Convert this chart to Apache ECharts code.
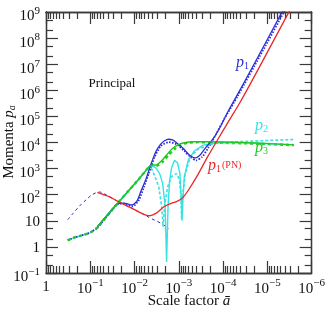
<!DOCTYPE html>
<html><head><meta charset="utf-8">
<script src="https://cdn.jsdelivr.net/npm/echarts@6/dist/echarts.min.js"></script>
<style>html,body{margin:0;padding:0;background:#fff}#c{width:328px;height:310px}</style>
</head><body><div id="c"></div>
<script>
// ---------- tick values & labels ----------
const xMajor = [1, 1e-1, 1e-2, 1e-3, 1e-4, 1e-5, 1e-6];
const xTickLabels = ['1', '10^\u22121', '10^\u22122', '10^\u22123', '10^\u22124', '10^\u22125', '10^\u22126'];
const yMajor = [1e-1, 1, 10, 1e2, 1e3, 1e4, 1e5, 1e6, 1e7, 1e8, 1e9];
const yTickLabels = ['10^\u22121', '1', '10', '10^2', '10^3', '10^4', '10^5', '10^6', '10^7', '10^8', '10^9'];
const xMinorMult = [2, 3, 4, 5, 6, 7, 8, 9];
const yMinorMult = [2, 5];

// ---------- series data [scale factor a, momentum p] ----------
const p1Thin = [[0.323,11.0],[0.250,18.5],[0.174,37.0],[0.1215,66],[0.0893,102],[0.0623,127],[0.0373,84.1],[0.0223,52.3],[0.0103,27.3],[0.00617,17.7],[0.00477,13.6],[0.00333,10.1],[0.00245,7.78],[0.00171,5.05]];
const p1PN = [[0.0691,124],[0.0373,84.1],[0.0223,52.3],[0.0103,27.3],[0.00617,17.7],[0.00477,15.6],[0.00316,20.2],[0.00221,33.9],[0.00154,45.9],[0.00113,54.6],[0.000832,73.8],[0.000611,148],[0.000365,616],[0.000218,3060],[0.000131,13300],[0.0000781,58000],[0.0000422,327000],[0.0000167,5.7e6],[3.23e-6,1.03e9],[2.5e-6,2.24e9]];
const p1 = [[0.0691,6.0],[0.0373,20.2],[0.0247,43.9],[0.01725,47.9],[0.01143,40.3],[0.00884,57.0],[0.00719,135],[0.00557,383],[0.0043,1400],[0.00333,4320],[0.00257,8630],[0.0021,11700],[0.00171,13300],[0.00139,12700],[0.00113,9830],[0.000789,5850],[0.00058,3330],[0.000426,2570],[0.00033,3330],[0.000242,6660],[0.000169,13700],[0.000118,37600],[0.0000781,150000],[0.0000468,713000],[0.0000167,1.76e7],[4.62e-6,1.03e9],[3.58e-6,2.24e9]];
const p1Dash = [[0.323,1.79],[0.225,2.32],[0.157,2.75],[0.099,3.57],[0.0691,5.5],[0.0373,19.3],[0.0247,42.1],[0.01725,45.9],[0.01086,35.4],[0.00797,62.1],[0.00617,191],[0.00477,643],[0.00351,2800],[0.00257,7260],[0.00171,10300],[0.00113,8630],[0.00075,4710],[0.000551,2800],[0.000405,2070],[0.000297,2800],[0.000218,6110],[0.000145,20500],[0.000096,75200],[0.0000468,600000],[0.0000151,1.91e7],[3.96e-6,1.22e9],[3.23e-6,2.44e9]];
const p2 = [[0.0691,6.0],[0.0373,20.2],[0.0223,54.6],[0.01334,148],[0.00797,400],[0.00557,834],[0.0043,1340],[0.00333,1080],[0.00271,643],[0.00232,271],[0.00204,37.0],[0.00189,0.266],[0.00175,37.0],[0.00162,322],[0.00146,1080],[0.00125,2070],[0.00107,1670],[0.000945,643],[0.000875,57.0],[0.000849,10.1],[0.00081,57.0],[0.00075,496],[0.000611,2160],[0.000449,4710],[0.000282,7920],[0.000131,9830],[0.0000279,9830],[2.5e-6,8120]];
const p2Dash = [[0.323,1.79],[0.225,2.32],[0.157,2.75],[0.099,3.57],[0.0691,5.5],[0.0373,19.3],[0.0223,54.6],[0.01334,148],[0.00797,400],[0.00557,834],[0.0043,1180],[0.00369,643],[0.00285,209],[0.00245,37.0],[0.00226,6.0],[0.0021,37.0],[0.0018,191],[0.00146,496],[0.00113,643],[0.00097,383],[0.000897,87.9],[0.000865,12.0],[0.000832,87.9],[0.000713,643],[0.000551,2800],[0.000365,5600],[0.000169,9020],[0.0000468,10700],[0.00001,11900],[2.5e-6,13100]];
const p3 = [[0.0691,6.0],[0.0373,20.2],[0.0223,54.6],[0.01334,148],[0.00797,400],[0.00557,834],[0.0043,1340],[0.00316,1400],[0.00245,1980],[0.00189,3330],[0.00139,5850],[0.00102,8270],[0.00075,9830],[0.000472,10700],[0.000218,10700],[0.0000279,9830],[2.5e-6,8120]];
const p3Dash = [[0.323,1.79],[0.225,2.32],[0.157,2.75],[0.099,3.57],[0.0691,5.5],[0.0373,19.3],[0.0223,54.6],[0.01334,148],[0.00797,400],[0.00557,834],[0.0043,1290],[0.00316,1290],[0.00232,1820],[0.00171,3330],[0.00125,5600],[0.000921,7920],[0.000611,9830],[0.000365,10300],[0.000131,9830],[0.0000167,9020],[2.5e-6,7920]];

// ---------- styling ----------
const serif = '"Liberation Serif","DejaVu Serif",serif';
const COL = {blue:'#2e2ed8', red:'#ea2626', green:'#1fc81f', cyan:'#36e2e2'};
const axisCol = '#3a3a3a';

function nudge(arr){ // keep boundary ticks inside the axis extent
  return arr.map((v,i)=> i===0 ? v*1.000001 : (i===arr.length-1 ? v*0.999999 : v));
}
function minorList(majors, mults){
  const out=[];
  majors.forEach(d=>mults.forEach(m=>out.push(d*m)));
  return out;
}
const xMajorAsc = xMajor.slice().sort((a,b)=>a-b);
const xMinor = minorList(xMajorAsc.slice(0,-1), xMinorMult);
const yMinor = minorList(yMajor.slice(0,-1), yMinorMult);

function fmt(label){
  if (label.indexOf('^')<0) return '{c|'+label+'}';
  const parts = label.split('^');
  return '{b|'+parts[0]+'}{e|'+parts[1]+'}';
}
function expOf(v){return Math.round(Math.log10(v));}

const tickLine = {color: axisCol, width: 1.2};
function xAx(pos, major, showLabel){
  return {
    type:'log', logBase:10, min:1e-6, max:1, inverse:true, position:pos, gridIndex:0,
    splitLine:{show:false},
    axisLine:{show:true, onZero:false, lineStyle:{color:axisCol, width:1.3}},
    axisTick:{show:true, inside:true, length: major?12:7, customValues: major? nudge(xMajorAsc): xMinor, lineStyle:tickLine},
    axisLabel: showLabel ? {
      show:true, customValues: nudge(xMajorAsc), margin:4, color:'#111', fontFamily:serif,
      formatter: v => fmt(xTickLabels[-expOf(v)]),
      rich:{
        b:{fontFamily:serif, fontSize:15, lineHeight:20, padding:[5,0,0,0], color:'#111'},
        e:{fontFamily:serif, fontSize:11, lineHeight:20, padding:[0,0,7,0], color:'#111'},
        c:{fontFamily:serif, fontSize:15, lineHeight:20, color:'#111'}
      }
    } : {show:false}
  };
}
function yAx(pos, major, showLabel){
  return {
    type:'log', logBase:10, min:0.1, max:1e9, position:pos, gridIndex:0,
    splitLine:{show:false},
    axisLine:{show:true, onZero:false, lineStyle:{color:axisCol, width:1.3}},
    axisTick:{show:true, inside:true, length: major?12:7, customValues: major? nudge(yMajor): yMinor, lineStyle:tickLine},
    axisLabel: showLabel ? {
      show:true, customValues: nudge(yMajor), margin:6, color:'#111', fontFamily:serif,
      formatter: v => fmt(yTickLabels[expOf(v)+1]),
      rich:{
        b:{fontFamily:serif, fontSize:15, lineHeight:20, padding:[9,0,0,0], color:'#111'},
        e:{fontFamily:serif, fontSize:11, lineHeight:20, padding:[0,0,1,0], color:'#111'},
        c:{fontFamily:serif, fontSize:15, lineHeight:20, padding:[3,0,0,0], color:'#111'}
      }
    } : {show:false}
  };
}

function line(name, data, color, width, type, z, smooth){
  return {name, type:'line', data, xAxisIndex:0, yAxisIndex:0, showSymbol:false, symbol:'none',
    smooth: smooth||false, clip:true, z, silent:true, animation:false,
    lineStyle:{color, width, type: type||'solid'}};
}

const chart = echarts.init(document.getElementById('c'), null, {renderer:'canvas'});
chart.setOption({
  animation:false,
  backgroundColor:'#fff',
  grid:{left:46, right:13, top:7, bottom:37, containLabel:false},
  xAxis:[xAx('bottom',true,true), xAx('bottom',false,false), xAx('top',true,false), xAx('top',false,false)],
  yAxis:[yAx('left',true,true), yAx('left',false,false), yAx('right',true,false), yAx('right',false,false)],
  series:[
    line('p1 thin', p1Thin, COL.blue, 1, [3,3], 2, 0.3),
    line('p2 dashed', p2Dash, COL.cyan, 1.6, [3,2], 3, false),
    line('p1 dashed', p1Dash, COL.blue, 1.8, [1.5,1.5], 4, 0.2),
    line('p3 dashed', p3Dash, COL.green, 2.4, [3,3], 5, 0.2),
    line('p2', p2, COL.cyan, 1.4, 'solid', 6, false),
    line('p1', p1, COL.blue, 1.3, 'solid', 7, 0.25),
    line('p3', p3, COL.green, 1.4, 'solid', 8, 0.25),
    line('p1 PN', p1PN, COL.red, 1.3, 'solid', 9, 0.25)
  ],
  graphic:[
    {type:'text', x:112, y:84, z:20, style:{text:'Principal', fontFamily:serif, fontSize:13, fill:'#111', align:'center', verticalAlign:'middle'}},
    {type:'text', x:236, y:63, z:20, style:{text:'{p|p}{s|1}', align:'left', verticalAlign:'middle',
      rich:{p:{fontFamily:serif, fontStyle:'italic', fontSize:16, fill:COL.blue, lineHeight:18}, s:{fontFamily:serif, fontSize:10, fill:COL.blue, lineHeight:18, padding:[6,0,0,0]}}}},
    {type:'text', x:255, y:126, z:20, style:{text:'{p|p}{s|2}', align:'left', verticalAlign:'middle',
      rich:{p:{fontFamily:serif, fontStyle:'italic', fontSize:16, fill:COL.cyan, lineHeight:18}, s:{fontFamily:serif, fontSize:10, fill:COL.cyan, lineHeight:18, padding:[6,0,0,0]}}}},
    {type:'text', x:255, y:148, z:20, style:{text:'{p|p}{s|3}', align:'left', verticalAlign:'middle',
      rich:{p:{fontFamily:serif, fontStyle:'italic', fontSize:16, fill:COL.green, lineHeight:18}, s:{fontFamily:serif, fontSize:10, fill:COL.green, lineHeight:18, padding:[6,0,0,0]}}}},
    {type:'text', x:208, y:166, z:20, style:{text:'{p|p}{s|1}{n|(PN)}', align:'left', verticalAlign:'middle',
      rich:{p:{fontFamily:serif, fontStyle:'italic', fontSize:16, fill:COL.red, lineHeight:18}, s:{fontFamily:serif, fontSize:10, fill:COL.red, lineHeight:18, padding:[6,0,0,0]}, n:{fontFamily:serif, fontSize:10, fill:COL.red, lineHeight:18, padding:[0,0,1,1]}}}},
    {type:'text', x:189, y:301, z:20, style:{text:'Scale factor {i|\u0101}', fontFamily:serif, fontSize:15, fill:'#111', align:'center', verticalAlign:'middle',
      rich:{i:{fontFamily:serif, fontStyle:'italic', fontSize:15, fill:'#111'}}}},
    {type:'text', x:9, y:142, rotation:Math.PI/2, z:20, style:{text:'Momenta {i|p}{s|a}', fontFamily:serif, fontSize:15, fill:'#111', align:'center', verticalAlign:'middle',
      rich:{i:{fontFamily:serif, fontStyle:'italic', fontSize:15, fill:'#111', lineHeight:18}, s:{fontFamily:serif, fontStyle:'italic', fontSize:10, fill:'#111', lineHeight:18, padding:[6,0,0,0]}}}}
  ]
});
</script></body></html>
